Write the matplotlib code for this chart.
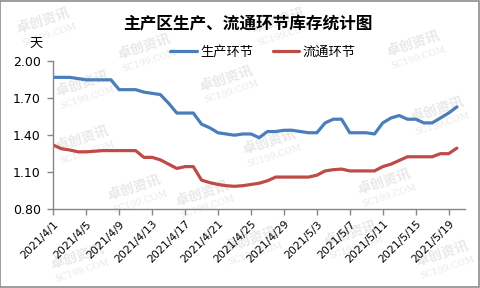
import matplotlib
matplotlib.use('Agg')
import matplotlib.pyplot as plt
import pandas as pd
from matplotlib.patches import Rectangle

plt.rcParams['font.family'] = ['Noto Sans CJK SC', 'DejaVu Sans']

# daily inventory days, 2021/4/1 - 2021/5/20
dates = pd.date_range('2021-04-01', '2021-05-20')
production = [1.87, 1.87, 1.87, 1.86, 1.85, 1.85, 1.85, 1.85, 1.77, 1.77,
              1.77, 1.75, 1.74, 1.73, 1.66, 1.58, 1.58, 1.58, 1.49, 1.46,
              1.42, 1.41, 1.40, 1.41, 1.41, 1.38, 1.43, 1.43, 1.44, 1.44,
              1.43, 1.42, 1.42, 1.50, 1.53, 1.53, 1.42, 1.42, 1.42, 1.41,
              1.50, 1.54, 1.56, 1.53, 1.53, 1.50, 1.50, 1.54, 1.58, 1.63]
circulation = [1.32, 1.29, 1.28, 1.265, 1.265, 1.27, 1.275, 1.275, 1.275, 1.275,
               1.275, 1.22, 1.22, 1.20, 1.165, 1.13, 1.145, 1.145, 1.035, 1.015,
               1.00, 0.99, 0.985, 0.99, 1.00, 1.01, 1.03, 1.06, 1.06, 1.06,
               1.06, 1.06, 1.075, 1.11, 1.12, 1.125, 1.11, 1.11, 1.11, 1.11,
               1.145, 1.165, 1.195, 1.225, 1.225, 1.225, 1.225, 1.25, 1.25, 1.295]
tick_dates = pd.date_range('2021-04-01', '2021-05-19', freq='4D')
tick_labels = ['%d/%d/%d' % (d.year, d.month, d.day) for d in tick_dates]
y_ticks = [0.80, 1.10, 1.40, 1.70, 2.00]

axis_grey = '#868686'

fig = plt.figure(figsize=(4.8, 2.88), dpi=100)
fig.patches.append(Rectangle((0.001, 0.002), 0.997, 0.995, transform=fig.transFigure,
                             fill=False, edgecolor='#8c8c8c', lw=1.2))

# faint watermark
marks = [(0.09, 0.93), (0.58, 0.93), (0.30, 0.84), (0.86, 0.85), (0.17, 0.71),
         (0.47, 0.73), (0.91, 0.62), (0.17, 0.52), (0.56, 0.51), (0.42, 0.33),
         (0.80, 0.37), (0.28, 0.35), (0.52, 0.17), (0.73, 0.19), (0.16, 0.11),
         (0.92, 0.12)]
for mx, my in marks:
    fig.text(mx, my, '卓创资讯', color='#e8e8e8', fontsize=10, fontweight='bold',
             rotation=18, ha='center', va='center', zorder=-2)
    fig.text(mx + 0.012, my - 0.05, 'SC199.COM', color='#e8e8e8', fontsize=6.5,
             rotation=18, ha='center', va='center', zorder=-2, family='DejaVu Serif')

ax = fig.add_axes([0.111, 0.274, 0.858, 0.513])
ax.patch.set_alpha(0)
ax.plot(dates, production, color='#4A7EBB', lw=2.3, label='生产环节',
        solid_joinstyle='round', solid_capstyle='round')
ax.plot(dates, circulation, color='#BE4B48', lw=2.3, label='流通环节',
        solid_joinstyle='round', solid_capstyle='round')

ax.set_xlim(pd.Timestamp('2021-04-01'), pd.Timestamp('2021-05-21'))
ax.set_ylim(0.80, 2.00)
ax.set_yticks(y_ticks)
ax.set_yticklabels(['%.2f' % v for v in y_ticks], family='DejaVu Sans', fontsize=9)
ax.set_xticks(tick_dates)
ax.set_xticklabels(tick_labels, rotation=45, ha='right', rotation_mode='anchor',
                   family='DejaVu Sans', fontsize=7.8)

for side in ['top', 'right']:
    ax.spines[side].set_visible(False)
for side in ['left', 'bottom']:
    ax.spines[side].set_color(axis_grey)
    ax.spines[side].set_linewidth(1)
ax.tick_params(axis='both', color=axis_grey, length=4, width=1, direction='out')
ax.tick_params(axis='y', pad=5)
ax.tick_params(axis='x', pad=3)

fig.text(0.517, 0.915, '主产区生产、流通环节库存统计图', fontsize=12,
         fontweight='bold', ha='center', va='center')
fig.text(0.075, 0.85, '天', fontsize=9.5, ha='center', va='center')
fig.legend(loc='center', bbox_to_anchor=(0.548, 0.82), ncol=2, frameon=False,
           fontsize=9.5, handlelength=2.0, columnspacing=1.5, handletextpad=0.25)

fig.savefig('out.png', dpi=100)
